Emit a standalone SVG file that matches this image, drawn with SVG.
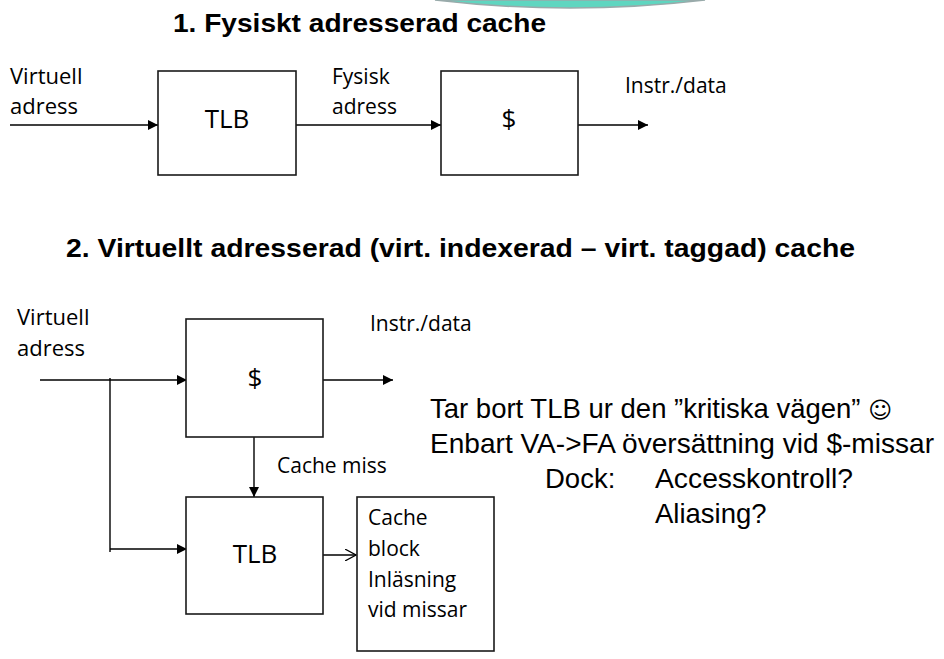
<svg xmlns="http://www.w3.org/2000/svg" width="944" height="659" viewBox="0 0 944 659">
<style>
.box{fill:#fff;stroke:#1a1a1a;stroke-width:1.6}
.ln{fill:none;stroke:#000;stroke-width:1.4}
.t{font-family:"Open Sans","Noto Sans",sans-serif;fill:#000}
.ttl{font-family:"Liberation Sans",Arial,sans-serif;font-weight:bold;font-size:25px;fill:#000}
.r{font-family:"Liberation Sans",Arial,sans-serif;font-size:27.5px;fill:#000}
</style>
<defs>
<marker id="ah" markerWidth="10" markerHeight="10" refX="10" refY="5" orient="auto" markerUnits="userSpaceOnUse">
<path d="M0,0 L10,5 L0,10 Z" fill="#000"/>
</marker>
<marker id="oh" markerWidth="12" markerHeight="12" refX="11" refY="6" orient="auto" markerUnits="userSpaceOnUse">
<path d="M0,0 L11,6 L0,12" fill="none" stroke="#000" stroke-width="1.2"/>
</marker>
</defs>
<rect width="944" height="659" fill="#fff"/>
<g id="deco">
<path d="M435,0 Q570,16 705,0 Z" fill="#5fd6c0" stroke="#9aa" stroke-width="1.5"/>
</g>
<text class="ttl" x="173" y="32" textLength="373" lengthAdjust="spacingAndGlyphs">1. Fysiskt adresserad cache</text>
<text class="ttl" x="66" y="257" textLength="789" lengthAdjust="spacingAndGlyphs">2. Virtuellt adresserad (virt. indexerad – virt. taggad) cache</text>

<g id="connectors">
<line class="ln" x1="10" y1="125" x2="158" y2="125" marker-end="url(#ah)"/>
<line class="ln" x1="296" y1="125" x2="441" y2="125" marker-end="url(#ah)"/>
<line class="ln" x1="578" y1="125" x2="648" y2="125" marker-end="url(#ah)"/>
<line class="ln" x1="40" y1="380" x2="187" y2="380" marker-end="url(#ah)"/>
<line class="ln" x1="110" y1="378" x2="110" y2="552"/>
<line class="ln" x1="110" y1="549" x2="187" y2="549" marker-end="url(#ah)"/>
<line class="ln" x1="323" y1="380" x2="393" y2="380" marker-end="url(#ah)"/>
<line class="ln" x1="254" y1="437" x2="254" y2="497" marker-end="url(#ah)"/>
<line class="ln" x1="323" y1="555" x2="356" y2="555" marker-end="url(#oh)"/>
</g>

<g id="tlb1"><rect class="box" x="158" y="71" width="138" height="104"/><text class="t" x="227" y="128" font-size="26" text-anchor="middle">TLB</text></g>
<g id="cache1"><rect class="box" x="441" y="71" width="137" height="104"/><text class="t" x="509" y="128" font-size="26" text-anchor="middle">$</text></g>
<g id="cache2"><rect class="box" x="186" y="319" width="137" height="118"/><text class="t" x="255" y="387" font-size="26" text-anchor="middle">$</text></g>
<g id="tlb2"><rect class="box" x="186" y="497" width="137" height="117"/><text class="t" x="255" y="563" font-size="26" text-anchor="middle">TLB</text></g>
<g id="block"><rect class="box" x="357" y="497" width="137" height="154"/>
<text class="t" font-size="21"><tspan x="368" y="525">Cache</tspan><tspan x="368" y="556">block</tspan><tspan x="368" y="587">Inläsning</tspan><tspan x="368" y="617">vid missar</tspan></text></g>

<g id="labels">
<text class="t" font-size="22"><tspan x="10" y="84">Virtuell</tspan><tspan x="10" y="114">adress</tspan></text>
<text class="t" font-size="21"><tspan x="332" y="84">Fysisk</tspan><tspan x="332" y="114">adress</tspan></text>
<text class="t" font-size="21" x="625" y="93">Instr./data</text>
<text class="t" font-size="22"><tspan x="17" y="325">Virtuell</tspan><tspan x="17" y="356">adress</tspan></text>
<text class="t" font-size="21" x="370" y="331">Instr./data</text>
<text class="t" font-size="21" x="277" y="473">Cache miss</text>
</g>

<g id="notes">
<text class="r" x="430" y="418">Tar bort TLB ur den ”kritiska vägen” <tspan font-family="DejaVu Sans,sans-serif" font-size="23">☺</tspan></text>
<text class="r" x="430" y="453" textLength="504" lengthAdjust="spacingAndGlyphs">Enbart VA-&gt;FA översättning vid $-missar</text>
<text class="r" x="545" y="488">Dock:</text>
<text class="r" x="655" y="488" textLength="198" lengthAdjust="spacingAndGlyphs">Accesskontroll?</text>
<text class="r" x="655" y="523">Aliasing?</text>
</g>
</svg>
